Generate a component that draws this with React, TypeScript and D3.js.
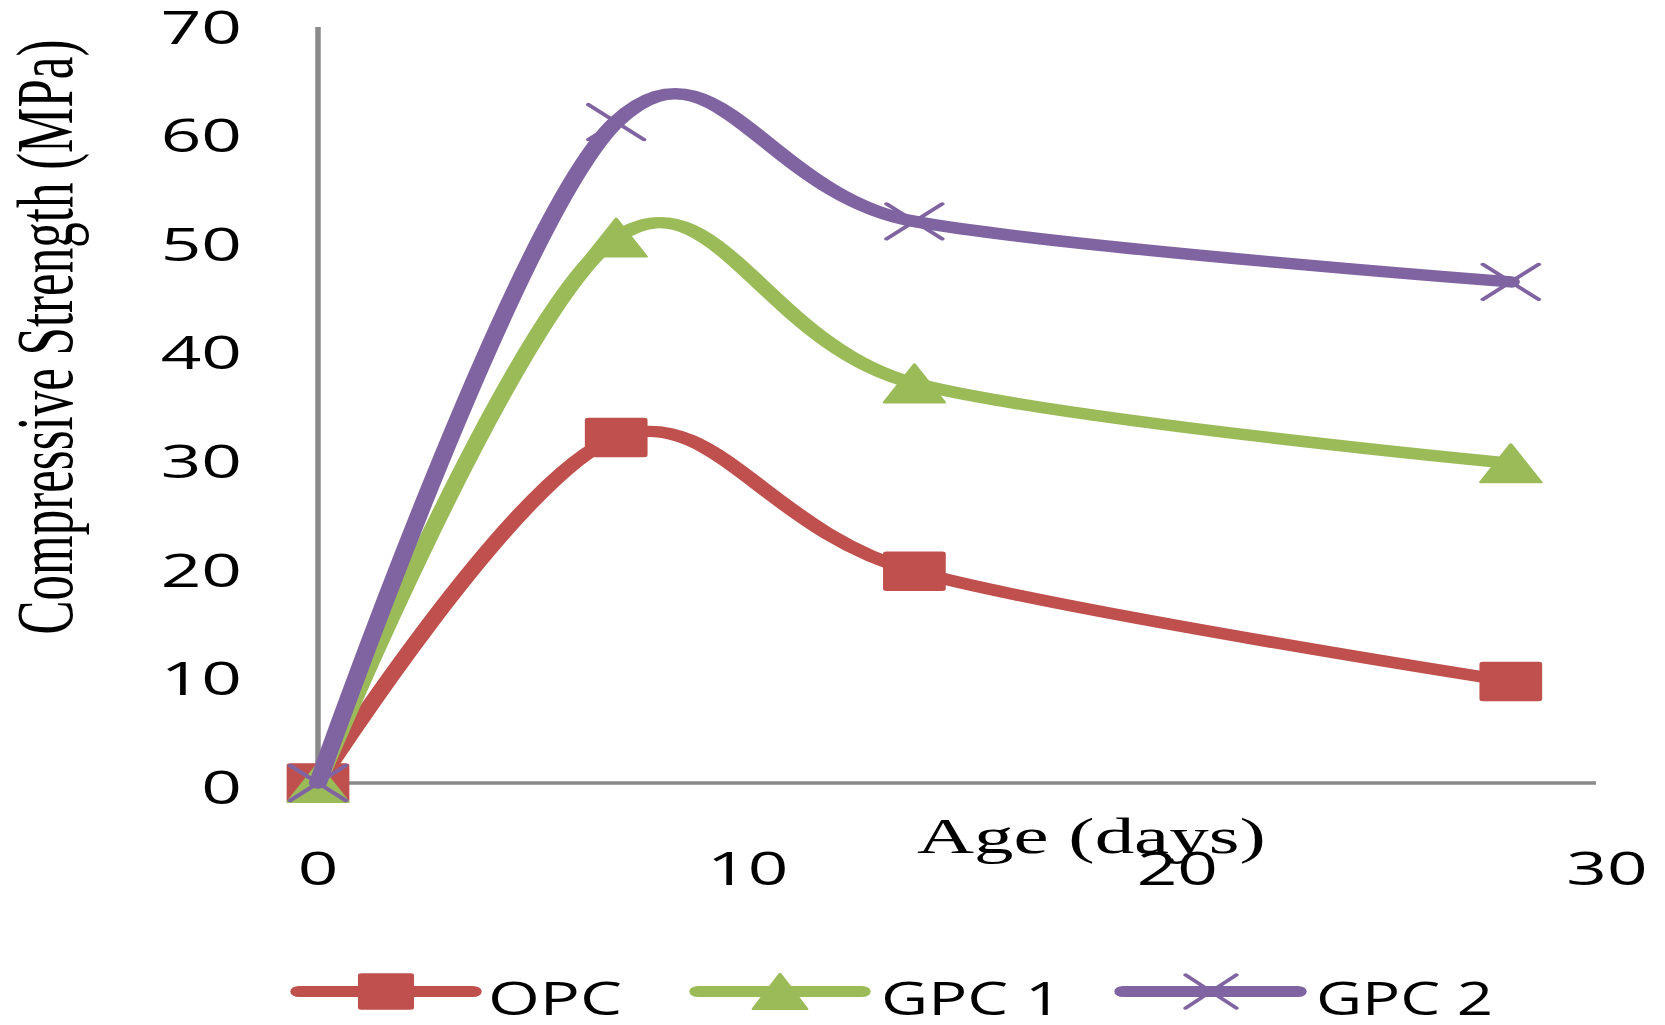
import React from "react";
import * as d3 from "d3";

// ---- data ----
const ages = [0, 7, 14, 28];
const opc = [0, 32, 19.6, 9.4];
const gpc1 = [0, 50.5, 37, 29.6];
const gpc2 = [0, 61.2, 52, 46.4];
const seriesNames = ["OPC", "GPC 1", "GPC 2"];
const seriesColors = ["#C0504D", "#9BBB59", "#8064A2"];
const seriesMarkers = ["square", "triangle", "x"];
const yTicks = [0, 10, 20, 30, 40, 50, 60, 70];
const xTicks = [0, 10, 20, 30];
const xTitle = "Age (days)";
const yTitle = "Compressive Strength (MPa)";

// the reference is horizontally stretched; draw in a compressed space and stretch
const S = 1.58;
const WIDTH = 1665;
const HEIGHT = 1025;
const VW = WIDTH / S;
const px = (v: number) => v / S;
const SANS = "'Open Sans', 'Noto Sans', sans-serif";
const SERIF = "'Liberation Serif', 'Times New Roman', serif";

export default function App() {
  const x = d3.scaleLinear().domain([0, 30]).range([px(318), px(1596)]);
  const y = d3.scaleLinear().domain([0, 70]).range([783, 27]);
  const xLab = d3.scaleLinear().domain([0, 30]).range([px(318), px(1607)]);
  const yLab = d3.scaleLinear().domain([0, 70]).range([788, 27.5]);

  const series = [opc, gpc1, gpc2].map((vals, i) => ({
    name: seriesNames[i],
    color: seriesColors[i],
    marker: seriesMarkers[i],
    points: ages.map((a, j) => [a, vals[j]] as [number, number]),
  }));

  const line = d3
    .line<[number, number]>()
    .x((d) => x(d[0]))
    .y((d) => y(d[1]))
    .curve(d3.curveCardinal.tension(0));

  const marker = (
    kind: string,
    cx: number,
    cy: number,
    color: string,
    hw: number,
    hh: number,
    key: string
  ) => {
    if (kind === "square") {
      return (
        <rect
          key={key}
          x={cx - hw}
          y={cy - hh}
          width={hw * 2}
          height={hh * 2}
          rx={1.5}
          fill={color}
          stroke={color}
          strokeWidth={1.5}
        />
      );
    }
    if (kind === "triangle") {
      return (
        <polygon
          key={key}
          points={`${cx},${cy - hh} ${cx + hw},${cy + hh} ${cx - hw},${cy + hh}`}
          fill={color}
          stroke={color}
          strokeWidth={2}
          strokeLinejoin="round"
        />
      );
    }
    return (
      <g key={key} stroke={color} strokeWidth={3.2} strokeLinecap="round">
        <line x1={cx - hw} y1={cy - hh} x2={cx + hw} y2={cy + hh} />
        <line x1={cx - hw} y1={cy + hh} x2={cx + hw} y2={cy - hh} />
      </g>
    );
  };

  const legendItems = [
    { x1: px(299), x2: px(473), mx: px(386), tx: px(488), tw: px(134) },
    { x1: px(698), x2: px(862), mx: px(780), tx: px(881), tw: px(181) },
    { x1: px(1123), x2: px(1298), mx: px(1211), tx: px(1316), tw: px(177) },
  ];
  const legendY = 991.5;

  return (
    <svg
      width={WIDTH}
      height={HEIGHT}
      viewBox={`0 0 ${VW} ${HEIGHT}`}
      preserveAspectRatio="none"
      style={{ position: "absolute", left: 0, top: 0, background: "#fff" }}
    >
      <rect x={0} y={0} width={VW} height={HEIGHT} fill="#fff" />
      {/* axes */}
      <line x1={x(0)} y1={y(0)} x2={x(0)} y2={y(70)} stroke="#8A8A8A" strokeWidth={3.5} />
      <line x1={x(0)} y1={y(0)} x2={x(30)} y2={y(0)} stroke="#8A8A8A" strokeWidth={3.5} />

      {/* y tick labels */}
      {yTicks.map((t) => (
        <text
          key={"y" + t}
          x={px(242)}
          y={yLab(t) + 16}
          textAnchor="end"
          fontFamily={SANS}
          fontSize={45}
          fill="#000"
        >
          {t}
        </text>
      ))}
      {/* x tick labels */}
      {xTicks.map((t) => (
        <text
          key={"x" + t}
          x={xLab(t)}
          y={885}
          textAnchor="middle"
          fontFamily={SANS}
          fontSize={45}
          fill="#000"
        >
          {t}
        </text>
      ))}

      {/* titles */}
      <text x={px(917)} y={853} fontFamily={SERIF} fontSize={50} fill="#000">
        {xTitle}
      </text>
      <text
        transform={`translate(${px(72)},337) rotate(-90)`}
        textAnchor="middle"
        fontFamily={SERIF}
        fontSize={51}
        fill="#000"
      >
        {yTitle}
      </text>

      {/* series */}
      {series.map((s) => (
        <g key={s.name}>
          <path
            d={line(s.points) || ""}
            fill="none"
            stroke={s.color}
            strokeWidth={11.5}
            strokeLinecap="round"
            strokeLinejoin="round"
          />
          {s.points.map((p, j) =>
            marker(
              s.marker,
              x(p[0]),
              y(p[1]),
              s.color,
              s.marker === "x" ? 17.6 : 19.1,
              s.marker === "x" ? 17.5 : 19,
              s.name + j
            )
          )}
        </g>
      ))}

      {/* legend */}
      {series.map((s, i) => {
        const L = legendItems[i];
        return (
          <g key={"leg" + i}>
            <line
              x1={L.x1}
              x2={L.x2}
              y1={legendY}
              y2={legendY}
              stroke={s.color}
              strokeWidth={11}
              strokeLinecap="round"
            />
            {marker(
              s.marker,
              L.mx,
              legendY,
              s.color,
              s.marker === "x" ? 16 : 17,
              s.marker === "x" ? 16.5 : 17.5,
              "lm" + i
            )}
            <text
              x={L.tx}
              y={1015}
              fontFamily={SANS}
              fontSize={45}
              textLength={L.tw}
              lengthAdjust="spacingAndGlyphs"
              fill="#000"
            >
              {s.name}
            </text>
          </g>
        );
      })}
    </svg>
  );
}
